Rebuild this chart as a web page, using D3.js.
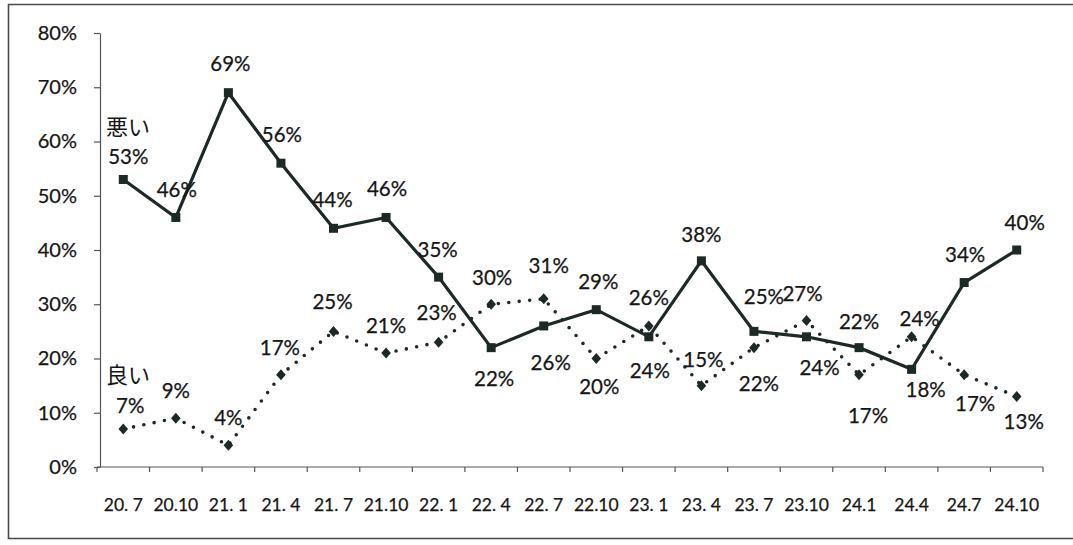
<!DOCTYPE html>
<html>
<head>
<meta charset="utf-8">
<script src="https://cdn.jsdelivr.net/npm/d3@7"></script>
<style>
  html, body { margin: 0; padding: 0; background: #fff; }
  svg { display: block; }
  text { font-family: Lato, "Open Sans", "Noto Sans", sans-serif; fill: #161616; }
</style>
</head>
<body>
<svg id="chart" width="1073" height="545"></svg>
<script>
// ---- data ----
const categories = ["20. 7","20.10","21. 1","21. 4","21. 7","21.10","22. 1","22. 4","22. 7","22.10","23. 1","23. 4","23. 7","23.10","24.1","24.4","24.7","24.10"];
const badValues  = [53, 46, 69, 56, 44, 46, 35, 22, 26, 29, 24, 38, 25, 24, 22, 18, 34, 40]; // 悪い (%)
const goodValues = [7, 9, 4, 17, 25, 21, 23, 30, 31, 20, 26, 15, 22, 27, 17, 24, 17, 13];    // 良い (%)
const seriesNames = ["悪い", "良い"];
const yTickValues = [0, 10, 20, 30, 40, 50, 60, 70, 80];

// ---- label placement (style) ----
const badLabelOffsets  = [[5,-23],[1,-28],[2,-30],[1,-29],[-1,-29],[1,-29],[-1,-28],[3,30],[7,36],[2,-29],[1,33],[0,-27],[10,-35],[13,30],[0,-27],[14,20],[1,-29],[8,-28]];
const goodLabelOffsets = [[7,-24],[0,-28],[0,-28],[-1,-28],[-1,-30],[0,-28],[-2,-30],[1,-27],[5,-34],[3,27],[0,-29],[2,-27],[5,35],[-4,-28],[9,40],[8,-19],[11,28],[7,25]];

const svg = d3.select("#chart");
const ink = "#1d2927";
const textInk = "#161616";

// border (scanned frame)
svg.append("path")
  .attr("d", "M1073,4.5 L8.5,4.5 L8.5,538.5 L1073,538.5")
  .attr("fill", "none").attr("stroke", "#4a4a4a").attr("stroke-width", 1.6);

const x = d3.scaleBand().domain(categories).range([97, 1043]).paddingInner(0).paddingOuter(0);
const y = d3.scaleLinear().domain([0, 80]).range([467, 33]);
const cx = c => x(c) + x.bandwidth() / 2;

// y axis
const yAxis = svg.append("g").attr("transform", "translate(100,0)")
  .call(d3.axisLeft(y).tickValues(yTickValues).tickFormat(d => d + "%").tickSize(6).tickSizeOuter(0).tickPadding(17));
yAxis.select(".domain").attr("stroke", "#555").attr("stroke-width", 1.2);
yAxis.selectAll(".tick line").attr("stroke", "#555").attr("stroke-width", 1.2);
yAxis.selectAll("text").style("font-size", "20px").style("font-family", "Lato, 'Open Sans', sans-serif")
  .attr("fill", textInk).attr("stroke", textInk).attr("stroke-width", 0.25);

// x axis (labels centered, ticks at category boundaries)
const xAxis = svg.append("g").attr("transform", "translate(0,467)")
  .call(d3.axisBottom(x).tickSize(0).tickPadding(32).tickSizeOuter(0));
xAxis.select(".domain").remove();
xAxis.selectAll("text").style("font-size", "17.5px").style("font-family", "Lato, 'Open Sans', sans-serif")
  .attr("fill", textInk).attr("stroke", textInk).attr("stroke-width", 0.25);
svg.append("line").attr("x1", x.range()[0]).attr("x2", x.range()[1]).attr("y1", 467).attr("y2", 467)
  .attr("stroke", "#555").attr("stroke-width", 1.2);
const bounds = d3.range(categories.length + 1).map(i => x.range()[0] + i * x.step());
svg.append("g").selectAll("line").data(bounds).join("line")
  .attr("x1", d => d).attr("x2", d => d).attr("y1", 467).attr("y2", 472)
  .attr("stroke", "#555").attr("stroke-width", 1.2);

const line = d3.line().x((d, i) => cx(categories[i])).y(d => y(d));

// good (dotted)
svg.append("path").datum(goodValues).attr("d", line)
  .attr("fill", "none").attr("stroke", ink).attr("stroke-width", 3.6)
  .attr("stroke-linecap", "round").attr("stroke-dasharray", "0 10.5");
svg.append("g").selectAll("path").data(goodValues).join("path")
  .attr("d", "M0,-5.5L4.8,0L0,5.5L-4.8,0Z")
  .attr("transform", (d, i) => `translate(${cx(categories[i])},${y(d)})`)
  .attr("fill", ink);

// bad (solid)
svg.append("path").datum(badValues).attr("d", line)
  .attr("fill", "none").attr("stroke", ink).attr("stroke-width", 3.2).attr("stroke-linejoin", "miter");
svg.append("g").selectAll("rect").data(badValues).join("rect")
  .attr("x", (d, i) => cx(categories[i]) - 4.5).attr("y", d => y(d) - 4.5)
  .attr("width", 9).attr("height", 9).attr("fill", ink);

// data labels
function labels(values, offsets) {
  svg.append("g").selectAll("text").data(values).join("text")
    .attr("x", (d, i) => cx(categories[i]) + offsets[i][0])
    .attr("y", (d, i) => y(d) + offsets[i][1])
    .attr("text-anchor", "middle").attr("dominant-baseline", "central")
    .attr("stroke", textInk).attr("stroke-width", 0.25)
    .style("font-size", "20.5px")
    .text(d => d + "%");
}
labels(badValues, badLabelOffsets);
labels(goodValues, goodLabelOffsets);

// series names
svg.append("text").attr("x", 106).attr("y", 125).attr("dominant-baseline", "central")
  .style("font-family", "'Noto Sans CJK JP', sans-serif").style("font-size", "22px").text(seriesNames[0]);
svg.append("text").attr("x", 106).attr("y", 373).attr("dominant-baseline", "central")
  .style("font-family", "'Noto Sans CJK JP', sans-serif").style("font-size", "22px").text(seriesNames[1]);
</script>
</body>
</html>
